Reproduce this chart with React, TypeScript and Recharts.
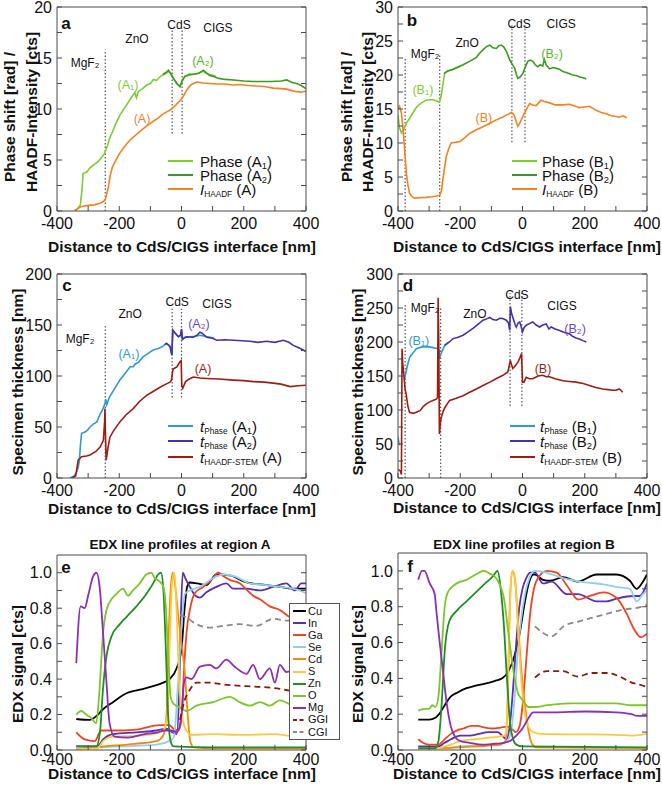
import { LineChart, Line, XAxis, YAxis, ReferenceLine, ReferenceDot } from "recharts";
import type { ReactNode } from "react";

const FONT = '"Liberation Sans", Arial, Helvetica, sans-serif';
const AXIS = "#4a4a4a";
const TICK = { fill: "#111", fontSize: 16, fontFamily: FONT };

// ---- colours
const GREEN_L = "#7fcb35";
const GREEN_D = "#3b9a1f";
const ORANGE = "#f5821f";
const BLUE_L = "#2e9ad0";
const INDIGO = "#4a2fa8";
const DARKRED = "#9e1d12";

// ---- ticks
const DIST_TICKS = [-400, -300, -200, -100, 0, 100, 200, 300, 400];
const A_TICKS = [0, 2.5, 5, 7.5, 10, 12.5, 15, 17.5, 20];
const B_TICKS = [0, 2.5, 5, 7.5, 10, 12.5, 15, 17.5, 20, 22.5, 25, 27.5, 30];
const C_TICKS = [0, 25, 50, 75, 100, 125, 150, 175, 200];
const D_TICKS = [0, 25, 50, 75, 100, 125, 150, 175, 200, 225, 250, 275, 300];
const EDX_TICKS = [0, 0.1, 0.2, 0.3, 0.4, 0.5, 0.6, 0.7, 0.8, 0.9, 1.0];

type Pt = [number, number | null];

// ---- panel a: phase shift / HAADF intensity, region A
const aPhaseA1: Pt[] = [[-345,0],[-335,0.2],[-325,0.6],[-320,2.0],[-316,3.7],[-305,3.8],[-295,4.2],[-283,4.5],[-270,4.8],[-258,5.2],[-248,5.6],[-238,6.4],[-230,7.2],[-224,7.6],[-212,8.5],[-198,9.4],[-185,10.0],[-170,10.7],[-160,11.2],[-150,11.6],[-145,11.1],[-139,11.7],[-125,12.0],[-112,12.35],[-100,12.5],[-90,12.9],[-80,12.8],[-68,13.2],[-55,13.4],[-42,13.7],[-35,13.5],[-26,13.0],[-15,12.5],[-5,12.2],[3,12.8],[11,13.2],[25,13.3],[40,13.4],[55,13.5],[70,13.7],[85,13.4],[100,13.3],[110,13.2]];
const aPhaseA2: Pt[] = [[-60,13.4],[-48,13.6],[-42,13.8],[-35,13.5],[-26,13.0],[-15,12.5],[-5,12.2],[3,12.8],[11,13.2],[25,13.4],[40,13.4],[55,13.5],[70,13.8],[78,13.6],[90,13.3],[102,13.2],[120,13.0],[140,12.9],[167,12.85],[200,12.75],[230,12.7],[260,12.7],[290,12.7],[320,12.75],[338,12.85],[355,12.6],[370,12.5],[385,12.3],[399,12.0]];
const aHaadfA: Pt[] = [[-342,0],[-335,0.2],[-321,0.45],[-300,0.55],[-280,0.6],[-262,0.75],[-250,0.95],[-244,1.2],[-236,2.2],[-229,3.5],[-222,4.3],[-214,4.8],[-200,5.6],[-188,6.1],[-176,6.6],[-160,7.1],[-145,7.5],[-133,7.8],[-118,8.2],[-105,8.5],[-91,8.8],[-75,9.1],[-60,9.5],[-48,9.7],[-32,10.0],[-18,10.4],[-5,10.8],[5,11.2],[14,11.7],[22,12.1],[32,12.4],[49,12.65],[70,12.55],[90,12.5],[113,12.45],[140,12.45],[165,12.35],[188,12.4],[215,12.3],[240,12.25],[265,12.2],[295,12.05],[320,12.0],[338,11.95],[355,11.8],[370,11.7],[385,11.65],[400,11.75]];

// ---- panel b: region B
const bPhaseB1: Pt[] = [[-400,14.1],[-395,12.2],[-389,11.5],[-382,12.0],[-372,13.0],[-363,13.6],[-350,14.6],[-340,15.3],[-325,15.9],[-309,16.3],[-295,16.4],[-282,16.3],[-272,16.1],[-267,16.0],[-262,16.8],[-256,18.5],[-250,20.3],[-240,20.6],[-225,20.8],[-210,21.1],[-200,21.3]];
const bPhaseB2: Pt[] = [[-252,20.2],[-240,20.6],[-225,20.8],[-210,21.1],[-191,21.5],[-170,22.0],[-148,22.6],[-138,23.2],[-127,23.7],[-115,24.2],[-105,24.4],[-95,24.0],[-84,23.9],[-76,24.3],[-68,24.4],[-60,24.1],[-52,23.5],[-46,22.8],[-41,22.2],[-33,21.6],[-25,21.0],[-20,20.1],[-15,19.5],[-8,19.7],[1,20.2],[9,21.2],[17,22.0],[25,22.2],[33,22.0],[41,21.5],[49,21.2],[57,21.5],[65,21.3],[70,22.3],[76,21.5],[87,20.9],[98,21.1],[108,21.0],[120,20.8],[130,20.5],[145,20.3],[162,20.0],[175,19.9],[183,19.7],[195,19.6],[205,19.4]];
const bHaadfB: Pt[] = [[-400,15.0],[-395,15.4],[-389,14.4],[-385,12.5],[-381,10.5],[-377,8.0],[-373,5.5],[-368,3.8],[-363,2.6],[-355,2.1],[-347,1.9],[-330,1.95],[-310,2.0],[-290,2.1],[-277,2.2],[-266,2.3],[-260,3.0],[-256,4.6],[-250,6.5],[-245,8.0],[-237,9.2],[-229,10.0],[-215,10.1],[-202,10.2],[-185,10.8],[-170,11.4],[-150,11.9],[-127,12.4],[-105,12.9],[-84,13.4],[-68,13.7],[-52,14.1],[-42,14.3],[-36,14.5],[-30,14.3],[-25,13.9],[-20,13.1],[-15,12.5],[-10,12.8],[-4,13.4],[4,14.2],[12,14.9],[23,15.8],[33,15.6],[44,15.5],[52,15.9],[60,16.3],[70,16.1],[87,15.9],[105,15.6],[130,15.6],[151,15.7],[170,15.4],[183,15.2],[200,15.3],[215,15.4],[237,14.8],[253,14.5],[269,14.3],[285,14.0],[301,13.9],[312,13.8],[322,14.0],[328,13.9],[335,13.7]];

// ---- panel c: specimen thickness, region A
const cThickA1: Pt[] = [[-358,0],[-345,2],[-339,4.6],[-332,10],[-328,17.6],[-324,35],[-321,43.8],[-310,45],[-302,47],[-294,50],[-282,53],[-272,55],[-261,63],[-252,68],[-246,73],[-243,77],[-240,72],[-232,79],[-224,83],[-210,90],[-198,96],[-180,103],[-165,109],[-155,109],[-148,112],[-140,113],[-123,119],[-108,122],[-91,125.5],[-75,127],[-60,129],[-48,132],[-37,129],[-31,120.6],[-28,145],[-20,142],[-10,138.5],[-3,140],[0,145],[3,136],[12,138],[27,138.5],[45,139],[59,140],[75,139],[92,138],[105,137]];
const cThickA2: Pt[] = [[-54,131],[-48,132],[-37,129],[-31,120.6],[-28,145],[-20,142],[-10,138.5],[-3,140],[0,146],[3,136],[12,138],[18,138.5],[38,138],[50,140],[59,143],[66,142],[81,138],[100,137],[113,135],[140,135.5],[167,135],[195,134.5],[220,134],[245,133],[274,134],[300,133],[327,135],[345,133],[359,130],[375,128],[388,126],[399,124]];
const cThickHaadfA: Pt[] = [[-353,0],[-340,2],[-332,17.6],[-321,20.9],[-305,21.5],[-294,22.5],[-275,26],[-261,30.6],[-251,37],[-247,55],[-246,68],[-244,40],[-242,17.6],[-236,30],[-230,40],[-219,46],[-198,55],[-178,62],[-155,68],[-135,75],[-112,81],[-90,85],[-69,89],[-50,92],[-37,94],[-32,96],[-29,104],[-26,107],[-15,109],[-5,114],[-1,115],[1,90],[4,88],[13,94.5],[25,97],[38,99],[60,98],[81,97.6],[120,97],[167,96],[200,95.5],[231,94.5],[265,94],[295,93],[320,92],[349,89.6],[375,90.5],[399,91]];

// ---- panel d: specimen thickness, region B
const dThickB1: Pt[] = [[-400,60],[-397,52],[-394,48],[-391,null],[-379,145],[-370,165],[-362,178],[-350,185],[-341,190],[-325,192.5],[-309,193.6],[-288,191.7],[-272,190],[-268,188],[-267,175],[-261,184],[-255,190],[-250,195],[-240,199]];
const dThickB2: Pt[] = [[-250,195],[-235,200],[-223,205],[-207,207],[-191,210],[-175,215],[-159,220],[-143,226],[-127,232],[-115,234],[-105,236],[-95,233],[-84,232],[-73,235],[-63,234.6],[-52,232],[-45,228],[-41,217],[-39,252],[-35,242],[-30,234.5],[-24,226],[-20,222],[-14,228],[-9,229.5],[-4,222],[0,215],[5,221],[12,224.7],[22,227],[33,229.5],[44,225],[55,222],[65,225],[76,226.6],[85,219],[92,222],[105,219],[119,217],[135,214],[151,212],[162,208],[172,206],[185,204],[194,202],[205,200]];
const dThickHaadfB: Pt[] = [[-400,12.8],[-392,10],[-389,5],[-387,190],[-385,170],[-381,150],[-377,130],[-374,124],[-368,105],[-363,96.5],[-350,95],[-340,97],[-329,99],[-319,105],[-309,109],[-298,112],[-288,114],[-277,116],[-273,118],[-271,265],[-269,200],[-267,64.6],[-264,80],[-261,89],[-255,98],[-250,103],[-242,109],[-234,114],[-215,117],[-191,121],[-170,126],[-148,131],[-127,136],[-105,141],[-85,146],[-63,151],[-47,156],[-39,173],[-35,166],[-31,161],[-23,165],[-15,170],[-8,177],[-3,183],[0,141],[5,141],[12,148],[22,146],[33,146],[50,150],[65,151],[76,149],[87,149],[105,146],[130,143],[150,142],[172,141],[195,139],[215,136],[235,133],[258,131],[275,130],[290,129],[300,129],[311,131],[318,128],[322,126]];

// ---- panel e: EDX region A
const eCu: Pt[] = [[-338,0.175],[-295,0.17],[-274,0.19],[-252,0.23],[-220,0.27],[-177,0.32],[-134,0.34],[-91,0.36],[-59,0.38],[-38,0.4],[-16,0.46],[0,0.57],[10,0.8],[18,0.92],[27,0.945],[50,0.94],[80,0.93],[112,0.99],[155,0.985],[209,0.945],[273,0.93],[316,0.92],[357,0.91],[400,0.91]];
const eIn: Pt[] = [[-338,0.02],[-270,0.02],[-252,0.06],[-220,0.09],[-145,0.1],[-80,0.11],[-48,0.12],[-30,0.1],[-15,0.09],[-8,0.3],[-2,0.75],[4,1.0],[12,0.97],[27,0.92],[45,0.87],[59,0.86],[80,0.89],[112,0.92],[144,0.94],[166,0.91],[209,0.91],[252,0.9],[294,0.92],[337,0.94],[364,0.9],[385,0.94],[400,0.94]];
const eGa: Pt[] = [[-338,0.1],[-311,0.06],[-279,0.05],[-258,0.11],[-215,0.11],[-145,0.115],[-70,0.14],[-40,0.14],[-25,0.12],[-10,0.11],[0,0.17],[8,0.45],[16,0.66],[28,0.8],[43,0.885],[70,0.92],[102,0.97],[118,1.0],[135,0.98],[155,0.96],[187,0.94],[209,0.905],[230,0.87],[252,0.85],[284,0.81],[316,0.79],[343,0.755],[370,0.73],[400,0.71]];
const eSe: Pt[] = [[-338,0.01],[-200,0.02],[-80,0.03],[-40,0.05],[-25,0.07],[-11,0.38],[0,0.7],[11,0.88],[27,0.9],[59,0.92],[102,0.97],[134,0.99],[171,0.98],[220,0.94],[273,0.93],[316,0.92],[359,0.91],[400,0.885]];
const eCd: Pt[] = [[-338,0.005],[-250,0.02],[-150,0.035],[-80,0.05],[-59,0.08],[-48,0.2],[-43,0.54],[-35,0.9],[-28,1.0],[-20,0.92],[-10,0.75],[0,0.6],[10,0.45],[20,0.2],[28,0.05],[40,0.015],[100,0.01],[400,0.01]];
const eS: Pt[] = [[-338,0.005],[-270,0.01],[-252,0.05],[-220,0.075],[-145,0.08],[-91,0.09],[-59,0.11],[-45,0.2],[-38,0.6],[-30,0.95],[-23,1.0],[-16,0.8],[-8,0.4],[0,0.22],[10,0.13],[20,0.1],[27,0.085],[100,0.09],[200,0.085],[300,0.09],[350,0.08],[400,0.085]];
const eZn: Pt[] = [[-338,0.02],[-274,0.02],[-262,0.1],[-252,0.35],[-241,0.53],[-225,0.64],[-198,0.71],[-177,0.75],[-145,0.81],[-113,0.88],[-91,0.94],[-75,0.99],[-66,1.0],[-58,0.9],[-50,0.55],[-43,0.2],[-35,0.05],[-25,0.02],[100,0.015],[400,0.015]];
const eO: Pt[] = [[-338,0.2],[-322,0.22],[-306,0.2],[-290,0.18],[-274,0.15],[-265,0.3],[-252,0.66],[-241,0.79],[-225,0.85],[-209,0.88],[-188,0.91],[-172,0.87],[-156,0.9],[-134,0.94],[-113,0.99],[-97,1.0],[-86,0.97],[-70,0.95],[-58,0.92],[-50,0.8],[-42,0.5],[-35,0.3],[-25,0.26],[-5,0.24],[16,0.22],[48,0.25],[102,0.27],[155,0.3],[187,0.27],[220,0.25],[252,0.27],[284,0.25],[316,0.28],[359,0.25],[400,0.24]];
const eMg: Pt[] = [[-338,0.49],[-324,0.81],[-311,0.8],[-300,0.87],[-284,0.98],[-273,1.0],[-263,0.92],[-252,0.66],[-241,0.38],[-231,0.15],[-215,0.075],[-172,0.07],[-118,0.09],[-75,0.1],[-54,0.11],[-30,0.11],[-15,0.1],[0,0.2],[8,0.38],[16,0.41],[32,0.4],[59,0.47],[91,0.48],[112,0.46],[144,0.51],[171,0.47],[209,0.43],[230,0.48],[252,0.4],[284,0.46],[300,0.38],[316,0.48],[337,0.44],[370,0.46],[400,0.45]];
const eGGI: Pt[] = [[-5,0.17],[10,0.28],[27,0.34],[48,0.38],[91,0.38],[134,0.37],[209,0.36],[262,0.355],[316,0.345],[348,0.335],[400,0.33]];
const eCGI: Pt[] = [[-5,0.76],[15,0.75],[38,0.72],[91,0.69],[134,0.7],[187,0.71],[241,0.7],[294,0.74],[337,0.73],[400,0.74]];

// ---- panel f: EDX region B
const fCu: Pt[] = [[-335,0.17],[-300,0.17],[-280,0.18],[-268,0.2],[-250,0.25],[-230,0.3],[-210,0.32],[-180,0.345],[-150,0.36],[-120,0.37],[-90,0.385],[-65,0.4],[-45,0.44],[-25,0.53],[-8,0.66],[5,0.8],[20,0.93],[35,0.98],[40,0.98],[66,0.95],[88,0.945],[130,0.965],[178,0.94],[238,0.98],[302,0.98],[345,0.945],[367,0.9],[387,0.94],[400,0.98]];
const fIn: Pt[] = [[-335,0.02],[-270,0.02],[-250,0.04],[-230,0.06],[-200,0.08],[-170,0.08],[-140,0.09],[-110,0.1],[-80,0.1],[-65,0.08],[-52,0.06],[-40,0.15],[-30,0.35],[-20,0.6],[-10,0.8],[0,0.9],[12,0.96],[25,0.99],[40,0.99],[66,0.93],[94,0.94],[142,0.87],[178,0.87],[238,0.83],[270,0.83],[302,0.845],[356,0.86],[377,0.86],[400,0.93]];
const fGa: Pt[] = [[-335,0.06],[-320,0.04],[-300,0.03],[-270,0.03],[-250,0.06],[-230,0.09],[-210,0.11],[-190,0.12],[-165,0.135],[-145,0.135],[-120,0.125],[-95,0.12],[-70,0.125],[-50,0.13],[-35,0.12],[-22,0.1],[-10,0.13],[2,0.28],[12,0.5],[24,0.75],[45,0.945],[78,1.0],[110,0.99],[142,0.92],[179,0.84],[217,0.86],[260,0.88],[302,0.85],[335,0.76],[360,0.67],[380,0.63],[400,0.65]];
const fSe: Pt[] = [[-335,0.01],[-260,0.01],[-200,0.02],[-100,0.03],[-60,0.04],[-45,0.06],[-35,0.12],[-25,0.3],[-15,0.55],[-5,0.72],[8,0.87],[22,0.96],[40,1.0],[66,0.995],[130,0.96],[185,0.94],[259,0.925],[302,0.91],[345,0.9],[367,0.83],[387,0.87],[400,0.89]];
const fCd: Pt[] = [[-335,0.005],[-250,0.01],[-150,0.02],[-70,0.03],[-55,0.05],[-47,0.3],[-40,0.85],[-32,1.0],[-24,0.95],[-14,0.7],[-4,0.45],[8,0.25],[20,0.1],[32,0.03],[45,0.015],[400,0.01]];
const fS: Pt[] = [[-335,0.005],[-270,0.01],[-250,0.02],[-230,0.03],[-200,0.05],[-150,0.06],[-100,0.07],[-60,0.08],[-52,0.1],[-45,0.5],[-37,0.95],[-30,1.0],[-22,0.92],[-12,0.6],[-2,0.35],[10,0.18],[22,0.12],[35,0.1],[60,0.09],[100,0.088],[200,0.087],[300,0.085],[350,0.08],[400,0.09]];
const fZn: Pt[] = [[-335,0.01],[-280,0.01],[-270,0.05],[-260,0.25],[-250,0.55],[-235,0.72],[-210,0.78],[-180,0.83],[-150,0.88],[-120,0.93],[-95,0.97],[-80,1.0],[-70,0.9],[-60,0.7],[-50,0.4],[-40,0.15],[-30,0.06],[-20,0.03],[0,0.02],[400,0.015]];
const fO: Pt[] = [[-335,0.22],[-315,0.23],[-300,0.23],[-290,0.25],[-280,0.24],[-270,0.3],[-260,0.55],[-250,0.8],[-240,0.88],[-220,0.92],[-200,0.94],[-180,0.95],[-160,0.97],[-140,0.99],[-125,1.0],[-110,0.99],[-100,0.98],[-90,0.97],[-75,0.93],[-60,0.85],[-45,0.65],[-30,0.45],[-15,0.32],[0,0.28],[20,0.24],[40,0.24],[80,0.25],[150,0.26],[250,0.26],[300,0.26],[350,0.25],[400,0.25]];
const fMg: Pt[] = [[-335,0.95],[-323,1.0],[-315,1.0],[-298,0.93],[-282,0.87],[-277,0.78],[-266,0.6],[-256,0.45],[-245,0.28],[-230,0.13],[-215,0.07],[-200,0.05],[-170,0.04],[-130,0.03],[-90,0.035],[-60,0.04],[-40,0.05],[-20,0.08],[0,0.12],[20,0.18],[34,0.21],[100,0.21],[200,0.215],[300,0.21],[350,0.2],[370,0.19],[400,0.19]];
const fGGI: Pt[] = [[40,0.405],[78,0.44],[130,0.44],[178,0.41],[222,0.43],[270,0.43],[313,0.41],[345,0.38],[394,0.355],[400,0.35]];
const fCGI: Pt[] = [[40,0.69],[94,0.635],[131,0.69],[185,0.72],[249,0.75],[313,0.78],[393,0.805],[400,0.81]];

// ---- EDX element styling
const EDX_NAMES = ["Cu", "In", "Ga", "Se", "Cd", "S", "Zn", "O", "Mg", "GGI", "CGI"];
const EDX_COLORS = ["#000000", "#5a2fb5", "#ee4424", "#8fd0ee", "#f58a07", "#ffc93a", "#1f8f1f", "#7cc62c", "#8b2fb8", "#8b1a0e", "#8a8a8a"];
const EDX_DASH = [undefined, undefined, undefined, undefined, undefined, undefined, undefined, undefined, undefined, "6 4", "6 4"];

type Series = { key: string; pts: Pt[]; color: string; dash?: string; width?: number };
type Note = { x: number; y: number; text: string; color?: string; size?: number; bold?: boolean };
type VLine = { x: number; y0: number; y1: number };
type Box = { x: number; y: number; w: number; h: number };
type Plot = { x0: number; y0: number; x1: number; y1: number };

const blank = () => "";
const fmtDist = (v: number) => (v % 200 === 0 ? String(v) : "");
const fmtStep = (step: number, digits: number) => (v: number) =>
  Math.abs(v / step - Math.round(v / step)) < 1e-6 ? v.toFixed(digits) : "";

function Panel(props: {
  box: Box; plot: Plot; yDomain: [number, number]; yTicks: number[]; xGap?: number;
  yFmt: (v: number) => string; series: Series[]; notes: Note[]; vlines: VLine[]; curve: "linear" | "monotone";
}) {
  const { box, plot, yDomain, yTicks, yFmt, series, notes, vlines, curve, xGap = 12 } = props;
  const margin = { top: plot.y0 - box.y - 1, right: box.x + box.w - plot.x1 - 1, bottom: 0, left: 0 };
  return (
    <div style={{ position: "absolute", left: box.x, top: box.y }}>
      <LineChart width={box.w} height={box.h} margin={margin} style={{ fontFamily: FONT }}>
        <XAxis dataKey="x" type="number" domain={[-400, 400]} ticks={DIST_TICKS} interval={0}
          tickFormatter={fmtDist} height={box.y + box.h - plot.y1} stroke={AXIS}
          tickSize={-5} tickMargin={xGap} tick={TICK} allowDataOverflow />
        <XAxis xAxisId="t" orientation="top" type="number" domain={[-400, 400]} ticks={DIST_TICKS}
          interval={0} tickFormatter={blank} height={1} stroke={AXIS} tickSize={-5} allowDataOverflow />
        <YAxis type="number" domain={yDomain} ticks={yTicks} interval={0} tickFormatter={yFmt}
          width={plot.x0 - box.x} stroke={AXIS} tickSize={-5} tickMargin={10} tick={TICK} allowDataOverflow />
        <YAxis yAxisId="r" orientation="right" type="number" domain={yDomain} ticks={yTicks} interval={0}
          tickFormatter={blank} width={1} stroke={AXIS} tickSize={-5} allowDataOverflow />
        {vlines.map((v, i) => (
          <ReferenceLine key={"v" + i} segment={[{ x: v.x, y: v.y0 }, { x: v.x, y: v.y1 }]}
            stroke="#555" strokeWidth={1.2} strokeDasharray="1.5 2" />
        ))}
        {series.map((s) => (
          <Line key={s.key} data={s.pts.map(([x, y]) => ({ x, y }))} dataKey="y" type={curve}
            stroke={s.color} strokeWidth={s.width ?? 1.6} strokeDasharray={s.dash} dot={false}
            activeDot={false} isAnimationActive={false} />
        ))}
        {notes.map((n, i) => (
          <ReferenceDot key={"n" + i} x={n.x} y={n.y} r={0} fill="none" stroke="none"
            label={{ value: n.text, position: "center", fill: n.color ?? "#111", fontSize: n.size ?? 12,
              fontWeight: n.bold ? 700 : 400, fontFamily: FONT }} />
        ))}
      </LineChart>
    </div>
  );
}

function Caption({ x, y, size, bold, rotate, children }: {
  x: number; y: number; size: number; bold?: boolean; rotate?: boolean; children: ReactNode;
}) {
  return (
    <div style={{
      position: "absolute", left: x, top: y, whiteSpace: "nowrap", fontSize: size, lineHeight: 1,
      fontWeight: bold ? 700 : 400, color: "#111",
      transform: `translate(-50%, -50%)${rotate ? " rotate(-90deg)" : ""}`,
    }}>{children}</div>
  );
}

const sub = { fontSize: "0.62em", verticalAlign: "-0.25em", lineHeight: 0 };
const subSmall = { fontSize: "0.55em", verticalAlign: "-0.3em", lineHeight: 0 };

function SideLegend({ x0, x1, tx, ys, items }: {
  x0: number; x1: number; tx: number; ys: number[]; items: { color: string; label: ReactNode }[];
}) {
  return (
    <>
      {items.map((it, i) => (
        <div key={i}>
          <div style={{ position: "absolute", left: x0, top: ys[i] - 1.1, width: x1 - x0, height: 2.2, background: it.color }} />
          <div style={{ position: "absolute", left: tx, top: ys[i], transform: "translateY(-50%)", fontSize: 15,
            lineHeight: 1, whiteSpace: "nowrap", color: "#111" }}>{it.label}</div>
        </div>
      ))}
    </>
  );
}

function EdxLegend() {
  return (
    <div style={{ position: "absolute", left: 289, top: 603, width: 51, height: 137, border: "1px solid #555",
      background: "#fff", boxSizing: "border-box" }}>
      {EDX_NAMES.map((name, i) => (
        <div key={name} style={{ position: "absolute", left: 3, top: 7 + i * 12.1 - 6, height: 12, display: "flex",
          alignItems: "center" }}>
          <svg width={13} height={4}>
            <line x1={0} y1={2} x2={13} y2={2} stroke={EDX_COLORS[i]} strokeWidth={2} strokeDasharray={EDX_DASH[i] ? "4 2.5" : undefined} />
          </svg>
          <span style={{ marginLeft: 2, fontSize: 11, lineHeight: 1, color: "#111" }}>{name}</span>
        </div>
      ))}
    </div>
  );
}

const edxSeries = (arrs: Pt[][]): Series[] =>
  arrs.map((pts, i) => ({ key: EDX_NAMES[i], pts, color: EDX_COLORS[i], dash: EDX_DASH[i], width: 1.8 }));

const region = (x: number, y: number, text: string): Note => ({ x, y, text });

export default function App() {
  const A: Series[] = [
    { key: "A1", pts: aPhaseA1, color: GREEN_L },
    { key: "A2", pts: aPhaseA2, color: GREEN_D },
    { key: "HA", pts: aHaadfA, color: ORANGE },
  ];
  const B: Series[] = [
    { key: "B1", pts: bPhaseB1, color: GREEN_L },
    { key: "B2", pts: bPhaseB2, color: GREEN_D },
    { key: "HB", pts: bHaadfB, color: ORANGE },
  ];
  const C: Series[] = [
    { key: "A1", pts: cThickA1, color: BLUE_L },
    { key: "A2", pts: cThickA2, color: INDIGO },
    { key: "HA", pts: cThickHaadfA, color: DARKRED },
  ];
  const D: Series[] = [
    { key: "B1", pts: dThickB1, color: BLUE_L },
    { key: "B2", pts: dThickB2, color: INDIGO },
    { key: "HB", pts: dThickHaadfB, color: DARKRED },
  ];

  return (
    <div style={{ position: "absolute", left: 0, top: 0, width: 662, height: 791, background: "#fff",
      fontFamily: FONT, overflow: "hidden" }}>
      <Panel box={{ x: 0, y: 0, w: 330, h: 260 }} plot={{ x0: 57, y0: 7, x1: 306, y1: 211 }}
        yDomain={[0, 20]} yTicks={A_TICKS} yFmt={fmtStep(5, 0)} series={A} curve="linear"
        vlines={[{ x: -245, y0: 0, y1: 15.8 }, { x: -30, y0: 7.6, y1: 17.9 }, { x: 2, y0: 7.6, y1: 17.9 }]}
        notes={[
          { x: -371, y: 18.4, text: "a", size: 17, bold: true },
          region(-310, 14.5, "MgF₂"), region(-143, 16.9, "ZnO"), region(-8, 18.3, "CdS"), region(117, 18.0, "CIGS"),
          { x: -172, y: 12.35, text: "(A₁)", color: GREEN_L, size: 12.5 },
          { x: 69, y: 14.7, text: "(A₂)", color: "#55b52a", size: 12.5 },
          { x: -127, y: 9.1, text: "(A)", color: ORANGE, size: 12.5 },
        ]} />
      <Panel box={{ x: 330, y: 0, w: 332, h: 260 }} plot={{ x0: 398, y0: 7, x1: 647, y1: 211 }}
        yDomain={[0, 30]} yTicks={B_TICKS} yFmt={fmtStep(5, 0)} series={B} curve="linear"
        vlines={[{ x: -377, y0: 0, y1: 22.5 }, { x: -266, y0: 0, y1: 23 }, { x: -34, y0: 10.1, y1: 27.4 }, { x: 8, y0: 10.1, y1: 27.4 }]}
        notes={[
          { x: -355, y: 28.1, text: "b", size: 17, bold: true },
          region(-313, 23.2, "MgF₂"), region(-178, 24.7, "ZnO"), region(-11, 27.6, "CdS"), region(124, 27.5, "CIGS"),
          { x: -320, y: 17.8, text: "(B₁)", color: GREEN_L, size: 12.5 },
          { x: 95, y: 23.2, text: "(B₂)", color: "#55b52a", size: 12.5 },
          { x: -124, y: 13.8, text: "(B)", color: ORANGE, size: 12.5 },
        ]} />
      <Panel box={{ x: 0, y: 260, w: 330, h: 260 }} plot={{ x0: 57, y0: 274, x1: 306, y1: 478 }}
        yDomain={[0, 200]} yTicks={C_TICKS} yFmt={fmtStep(50, 0)} series={C} curve="linear"
        vlines={[{ x: -245, y0: 0, y1: 149 }, { x: -30, y0: 79, y1: 166 }, { x: 0, y0: 79, y1: 166 }]}
        notes={[
          { x: -368, y: 189, text: "c", size: 17, bold: true },
          region(-326, 137, "MgF₂"), region(-165, 161, "ZnO"), region(-14, 173, "CdS"), region(114, 171, "CIGS"),
          { x: -169, y: 122, text: "(A₁)", color: BLUE_L, size: 12.5 },
          { x: 56, y: 151, text: "(A₂)", color: "#6a48c8", size: 12.5 },
          { x: 69, y: 107, text: "(A)", color: DARKRED, size: 12.5 },
        ]} />
      <Panel box={{ x: 330, y: 260, w: 332, h: 260 }} plot={{ x0: 398, y0: 274, x1: 647, y1: 478 }}
        yDomain={[0, 300]} yTicks={D_TICKS} yFmt={fmtStep(50, 0)} series={D} curve="linear"
        vlines={[{ x: -377, y0: 0, y1: 257 }, { x: -263, y0: 0, y1: 250 }, { x: -40, y0: 106, y1: 272 }, { x: -2, y0: 106, y1: 272 }]}
        notes={[
          { x: -368, y: 284, text: "d", size: 17, bold: true },
          region(-313, 250, "MgF₂"), region(-153, 242, "ZnO"), region(-18, 269, "CdS"), region(127, 254, "CIGS"),
          { x: -333, y: 202, text: "(B₁)", color: BLUE_L, size: 12.5 },
          { x: 169, y: 220, text: "(B₂)", color: "#6a48c8", size: 12.5 },
          { x: 66, y: 161, text: "(B)", color: DARKRED, size: 12.5 },
        ]} />
      <Panel box={{ x: 0, y: 520, w: 330, h: 271 }} plot={{ x0: 57, y0: 555, x1: 306, y1: 750 }} xGap={9}
        yDomain={[0, 1.1]} yTicks={EDX_TICKS} yFmt={fmtStep(0.2, 1)} curve="monotone"
        series={edxSeries([eCu, eIn, eGa, eSe, eCd, eS, eZn, eO, eMg, eGGI, eCGI])}
        vlines={[]} notes={[{ x: -371, y: 1.03, text: "e", size: 17, bold: true }]} />
      <Panel box={{ x: 330, y: 520, w: 332, h: 271 }} plot={{ x0: 398, y0: 553, x1: 647, y1: 750 }} xGap={9}
        yDomain={[0, 1.1]} yTicks={EDX_TICKS} yFmt={fmtStep(0.2, 1)} curve="monotone"
        series={edxSeries([fCu, fIn, fGa, fSe, fCd, fS, fZn, fO, fMg, fGGI, fCGI])}
        vlines={[]} notes={[{ x: -361, y: 1.03, text: "f", size: 17, bold: true }]} />

      {/* axis titles */}
      <Caption x={10} y={117} size={15.5} bold rotate>Phase shift [rad] /</Caption>
      <Caption x={32} y={112} size={15.5} bold rotate>HAADF-Intensity [cts]</Caption>
      <Caption x={347} y={117} size={15.5} bold rotate>Phase shift [rad] /</Caption>
      <Caption x={368} y={112} size={15.5} bold rotate>HAADF-Intensity [cts]</Caption>
      <Caption x={18} y={382} size={15.5} bold rotate>Specimen thickness [nm]</Caption>
      <Caption x={358} y={382} size={15.5} bold rotate>Specimen thickness [nm]</Caption>
      <Caption x={18} y={664} size={15.5} bold rotate>EDX signal [cts]</Caption>
      <Caption x={358} y={664} size={15.5} bold rotate>EDX signal [cts]</Caption>
      <Caption x={182} y={247} size={15.5} bold>Distance to CdS/CIGS interface [nm]</Caption>
      <Caption x={527} y={247} size={15.5} bold>Distance to CdS/CIGS interface [nm]</Caption>
      <Caption x={182} y={509} size={15.5} bold>Distance to CdS/CIGS interface [nm]</Caption>
      <Caption x={527} y={508} size={15.5} bold>Distance to CdS/CIGS interface [nm]</Caption>
      <Caption x={182} y={774} size={15.5} bold>Distance to CdS/CIGS interface [nm]</Caption>
      <Caption x={527} y={774} size={15.5} bold>Distance to CdS/CIGS interface [nm]</Caption>
      <Caption x={180} y={545} size={13.5} bold>EDX line profiles at region A</Caption>
      <Caption x={524} y={545} size={13.5} bold>EDX line profiles at region B</Caption>

      {/* legends */}
      <SideLegend x0={168} x1={193} tx={200} ys={[161, 175, 189]} items={[
        { color: GREEN_L, label: <>Phase (A<span style={sub}>1</span>)</> },
        { color: GREEN_D, label: <>Phase (A<span style={sub}>2</span>)</> },
        { color: ORANGE, label: <><i>I</i><span style={subSmall}>HAADF</span> (A)</> },
      ]} />
      <SideLegend x0={512} x1={537} tx={542} ys={[161, 175, 189]} items={[
        { color: GREEN_L, label: <>Phase (B<span style={sub}>1</span>)</> },
        { color: GREEN_D, label: <>Phase (B<span style={sub}>2</span>)</> },
        { color: ORANGE, label: <><i>I</i><span style={subSmall}>HAADF</span> (B)</> },
      ]} />
      <SideLegend x0={168} x1={193} tx={200} ys={[426, 441, 457]} items={[
        { color: BLUE_L, label: <><i>t</i><span style={subSmall}>Phase</span> (A<span style={sub}>1</span>)</> },
        { color: INDIGO, label: <><i>t</i><span style={subSmall}>Phase</span> (A<span style={sub}>2</span>)</> },
        { color: DARKRED, label: <><i>t</i><span style={subSmall}>HAADF-STEM</span> (A)</> },
      ]} />
      <SideLegend x0={510} x1={535} tx={540} ys={[426, 441, 457]} items={[
        { color: BLUE_L, label: <><i>t</i><span style={subSmall}>Phase</span> (B<span style={sub}>1</span>)</> },
        { color: INDIGO, label: <><i>t</i><span style={subSmall}>Phase</span> (B<span style={sub}>2</span>)</> },
        { color: DARKRED, label: <><i>t</i><span style={subSmall}>HAADF-STEM</span> (B)</> },
      ]} />
      <EdxLegend />
    </div>
  );
}
